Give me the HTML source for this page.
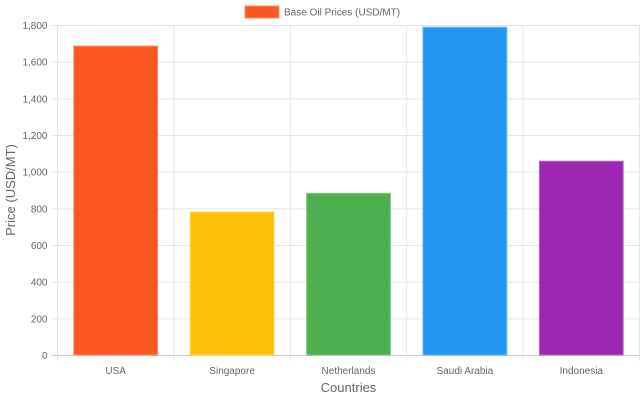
<!DOCTYPE html>
<html><head><meta charset="utf-8"><style>
body{margin:0;background:#fff;font-family:"Liberation Sans",sans-serif}
svg{display:block}
</style></head><body>
<svg id="c" width="640" height="400"></svg>
<script>
const categories=["USA","Singapore","Netherlands","Saudi Arabia","Indonesia"];
const values=[1685,780,882,1788,1057];
const colors=["#FF5722","#FFC107","#4CAF50","#2196F3","#9C27B0"];
const borders=["#FF8A65","#FFD54F","#81C784","#64B5F6","#BA68C8"];
const ticks=[0,200,400,600,800,1000,1200,1400,1600,1800];
const NS="http://www.w3.org/2000/svg";
const svg=document.getElementById('c');
const L=57.5,R=639.5,T=25,B=355,ymax=1800;
const y=v=>B-(v/ymax)*(B-T);
const bw=(R-L)/categories.length;
const x=i=>L+i*bw;
function el(t,a,txt){const e=document.createElementNS(NS,t);for(const k in a)e.setAttribute(k,a[k]);if(txt!=null)e.textContent=txt;svg.appendChild(e);return e;}
ticks.forEach(t=>{
 const g=el('line',{x1:L-6,x2:R,y1:y(t)+.5,y2:y(t)+.5,stroke:t===0?'#ccc':'#e6e6e6','stroke-width':1});
 
 
 const lb=el('text',{x:L-10,y:y(t)+4,'text-anchor':'end','font-size':10,fill:'#666'},t.toLocaleString('en-US'));
 
 
});
for(let i=0;i<=categories.length;i++){
 const g=el('line',{x1:x(i),x2:x(i),y1:T,y2:B+6,stroke:'#e6e6e6','stroke-width':1});
 
 
}
categories.forEach((c,i)=>{
 const w=bw*0.72,cx=x(i)+bw/2;
 const r=el('rect',{x:cx-w/2,y:y(values[i]),width:w,height:B-y(values[i]),fill:colors[i],stroke:borders[i],'stroke-width':1});
 
 
 const lb=el('text',{x:cx,y:374,'text-anchor':'middle','font-size':10,fill:'#666'},c);
 
 
});
const xt=el('text',{x:(L+R)/2,y:392,'text-anchor':'middle','font-size':13,fill:'#666'},'Countries');


const yt=el('text',{x:0,y:0,'text-anchor':'middle','font-size':13,fill:'#666',transform:'translate(15,190) rotate(-90)'},'Price (USD/MT)');


const lr=el('rect',{x:245,y:6,width:34,height:12,fill:'#FF5722',stroke:'#FF8A65','stroke-width':1});


const lt=el('text',{x:284,y:15.5,'font-size':10,fill:'#666'},'Base Oil Prices (USD/MT)');


</script>
</body></html>
